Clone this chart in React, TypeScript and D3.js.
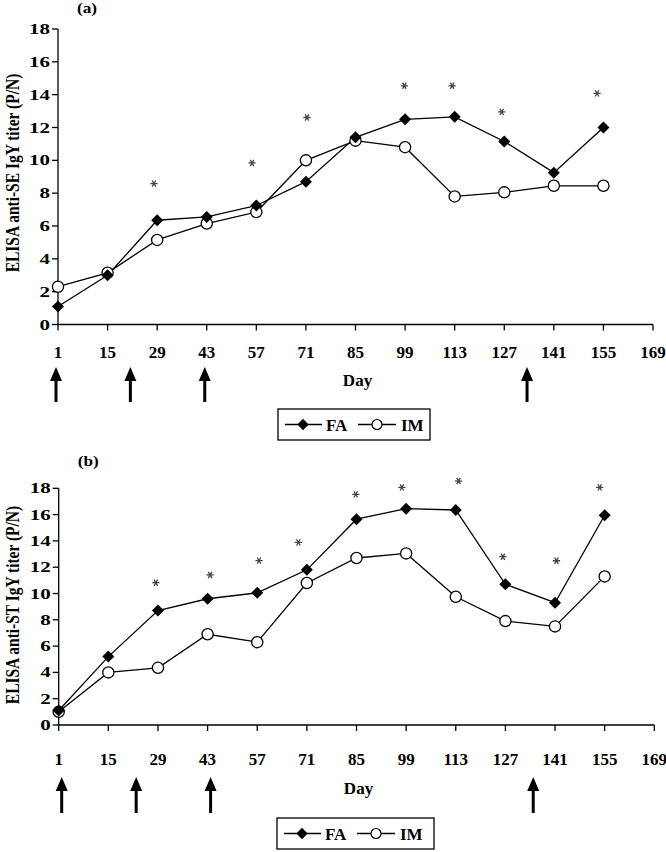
import React from 'react';
import * as d3 from 'd3';

// ---------- data ----------
const days = [1, 15, 29, 43, 57, 71, 85, 99, 113, 127, 141, 155];
const tickDays = [1, 15, 29, 43, 57, 71, 85, 99, 113, 127, 141, 155, 169];
const yTicks = [0, 2, 4, 6, 8, 10, 12, 14, 16, 18];

const seFA = [1.1, 3.0, 6.35, 6.55, 7.25, 8.7, 11.4, 12.5, 12.65, 11.15, 9.25, 12.0];
const seIM = [2.3, 3.15, 5.15, 6.15, 6.85, 10.0, 11.2, 10.8, 7.8, 8.05, 8.45, 8.45];
const stFA = [1.1, 5.2, 8.7, 9.6, 10.05, 11.8, 15.65, 16.45, 16.35, 10.7, 9.3, 15.95];
const stIM = [1.0, 4.0, 4.35, 6.9, 6.3, 10.8, 12.7, 13.05, 9.75, 7.9, 7.5, 11.3];

// significance asterisks (day position, level)
const seStarDays = [28.1, 55.8, 71.3, 98.8, 112.3, 126.3, 153.2];
const seStarLevels = [8.58, 9.84, 12.61, 14.54, 14.54, 12.95, 14.08];
const stStarDays = [28.4, 43.7, 57.5, 68.6, 84.8, 97.8, 113.8, 126.3, 141.4, 153.6];
const stStarLevels = [10.82, 11.41, 12.5, 13.89, 17.54, 18.07, 18.55, 12.8, 12.49, 18.07];

// immunisation days (arrows)
const boostDays = [1, 22, 43, 134];

const seriesNames = ['FA', 'IM'];

const FONT = '"Liberation Serif", "Times New Roman", serif';

type PanelProps = {
  label: string;
  title: string;
  fa: number[];
  im: number[];
  starDays: number[];
  starLevels: number[];
  x0: number; x1: number; yTop: number; yBottom: number;
  labelY: number;
  tickLabelY: number;
  arrowTop: number; arrowBottom: number; arrowShift: number;
  dayY: number;
  legendX: number; legendY: number; legendW: number; legendH: number;
  titleY: number;
};

const diamond = d3.symbol().type(d3.symbolSquare).size(72)();
const legendDiamond = d3.symbol().type(d3.symbolSquare).size(64)();
const star = d3.symbol().type(d3.symbolAsterisk).size(36)();

function Panel(p: PanelProps) {
  const x = d3.scaleLinear().domain([1, 169]).range([p.x0, p.x1]);
  const y = d3.scaleLinear().domain([0, 18]).range([p.yBottom, p.yTop]);
  const line = d3.line<number>().x((_, i) => x(days[i])).y((v) => y(v));
  const legCy = p.legendY + p.legendH / 2;
  const lx = p.legendX;
  return (
    <g>
      {/* panel label */}
      <text transform={`translate(${p.x0 + 19},${p.labelY}) scale(1.15,1)`} fontFamily={FONT} fontWeight="bold" fontSize={15}>{p.label}</text>
      {/* y axis title */}
      <text transform={`translate(19,${p.titleY}) rotate(-90) scale(1,1.22)`} textAnchor="middle"
        fontFamily={FONT} fontWeight="bold" fontSize={15.5}>{p.title}</text>
      {/* axes */}
      <line x1={p.x0} x2={p.x0} y1={p.yTop} y2={p.yBottom} stroke="#000" strokeWidth={1.3} />
      <line x1={p.x0} x2={p.x1} y1={p.yBottom} y2={p.yBottom} stroke="#000" strokeWidth={1.3} />
      {yTicks.map((t) => (
        <g key={'y' + t}>
          <line x1={p.x0 - 6} x2={p.x0} y1={y(t)} y2={y(t)} stroke="#000" strokeWidth={1.3} />
          <text transform={`translate(${p.x0 - 8},${y(t) + 5}) scale(1.4,1)`} textAnchor="end"
            fontFamily={FONT} fontWeight="bold" fontSize={15}>{t}</text>
        </g>
      ))}
      {tickDays.map((t) => (
        <g key={'x' + t}>
          <line x1={x(t)} x2={x(t)} y1={p.yBottom} y2={p.yBottom + 6} stroke="#000" strokeWidth={1.3} />
          <text x={x(t)} y={p.tickLabelY} textAnchor="middle" fontFamily={FONT} fontWeight="bold" fontSize={17}>{t}</text>
        </g>
      ))}
      <text x={(p.x0 + p.x1) / 2 + 2} y={p.dayY} textAnchor="middle" fontFamily={FONT} fontWeight="bold" fontSize={17}>Day</text>
      {/* arrows */}
      {boostDays.map((d) => {
        const ax = x(d) + p.arrowShift;
        return (
          <g key={'a' + d}>
            <line x1={ax} x2={ax} y1={p.arrowTop + 10} y2={p.arrowBottom} stroke="#000" strokeWidth={3} />
            <path d={`M${ax},${p.arrowTop} L${ax - 6},${p.arrowTop + 14} L${ax + 6},${p.arrowTop + 14} Z`} fill="#000" />
          </g>
        );
      })}
      {/* lines */}
      <path d={line(p.fa) || ''} fill="none" stroke="#000" strokeWidth={1.3} />
      <path d={line(p.im) || ''} fill="none" stroke="#000" strokeWidth={1.3} />
      {p.im.map((v, i) => (
        <circle key={'c' + i} cx={x(days[i])} cy={y(v)} r={5.6} fill="#fff" stroke="#000" strokeWidth={1.3} />
      ))}
      {p.fa.map((v, i) => (
        <path key={'d' + i} d={diamond || ''} transform={`translate(${x(days[i])},${y(v)}) rotate(45)`} fill="#000" />
      ))}
      {/* asterisks */}
      {p.starDays.map((d, i) => (
        <path key={'s' + i} d={star || ''} transform={`translate(${x(d)},${y(p.starLevels[i])}) rotate(90)`}
          fill="none" stroke="#444" strokeWidth={1.3} />
      ))}
      {/* legend */}
      <rect x={lx} y={p.legendY} width={p.legendW} height={p.legendH} fill="#fff" stroke="#000" strokeWidth={1.3} />
      <line x1={lx + 7} x2={lx + 44} y1={legCy} y2={legCy} stroke="#000" strokeWidth={1.3} />
      <path d={legendDiamond || ''} transform={`translate(${lx + 25},${legCy}) rotate(45)`} fill="#000" />
      <text x={lx + 48} y={legCy + 6} fontFamily={FONT} fontWeight="bold" fontSize={17}>{seriesNames[0]}</text>
      <line x1={lx + 80} x2={lx + 118} y1={legCy} y2={legCy} stroke="#000" strokeWidth={1.3} />
      <circle cx={lx + 99} cy={legCy} r={5} fill="#fff" stroke="#000" strokeWidth={1.2} />
      <text x={lx + 123} y={legCy + 6} fontFamily={FONT} fontWeight="bold" fontSize={17}>{seriesNames[1]}</text>
    </g>
  );
}

export default function App() {
  return (
    <svg width={666} height={852} style={{ position: 'absolute', left: 0, top: 0, background: '#fff' }}>
      <rect width={666} height={852} fill="#fff" />
      <Panel label="(a)" title="ELISA anti-SE IgY titer (P/N)" fa={seFA} im={seIM}
        starDays={seStarDays} starLevels={seStarLevels}
        x0={58} x1={653} yTop={29} yBottom={324.5} labelY={13}
        tickLabelY={357.5} arrowTop={367} arrowBottom={402} arrowShift={-2} dayY={386}
        legendX={278} legendY={409} legendW={152} legendH={31} titleY={173} />
      <Panel label="(b)" title="ELISA anti-ST IgY titer (P/N)" fa={stFA} im={stIM}
        starDays={stStarDays} starLevels={stStarLevels}
        x0={58.7} x1={654.3} yTop={488.3} yBottom={725} labelY={466}
        tickLabelY={765} arrowTop={777} arrowBottom={813} arrowShift={3} dayY={794}
        legendX={277} legendY={818} legendW={157} legendH={31} titleY={605} />
    </svg>
  );
}
